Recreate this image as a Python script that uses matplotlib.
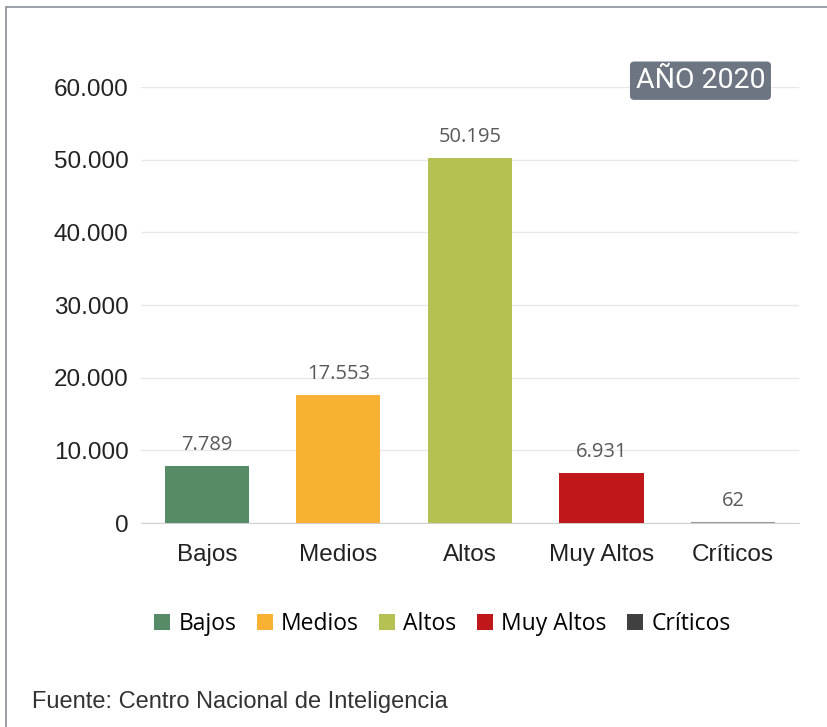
import matplotlib
matplotlib.use("Agg")
import matplotlib.pyplot as plt
from matplotlib.patches import Rectangle, Patch
from matplotlib.ticker import FuncFormatter

# Datos
categorias = ["Bajos", "Medios", "Altos", "Muy Altos", "Críticos"]
valores = [7789, 17553, 50195, 6931, 62]
colores = ["#558b67", "#f8b133", "#b5c153", "#c0171b", "#404040"]

def miles(v):
    return f"{int(v):,}".replace(",", ".")

fig = plt.figure(figsize=(8.27, 7.27), dpi=100)
ax = fig.add_axes([0.1705, 0.2806, 0.7955, 0.5997])

x = range(len(categorias))
barras = ax.bar(x, valores, width=0.64, color=colores, zorder=3)
# la barra de Críticos casi no tiene altura: se marca con un borde fino
barras[-1].set_edgecolor("#9a9a9a")
barras[-1].set_linewidth(1.5)

for xi, v in zip(x, valores):
    ax.text(xi, v + 2900, miles(v), ha="center", va="center",
            fontsize=14.5, color="#595959", family="Open Sans")

ax.set_ylim(0, 60000)
ax.set_xlim(-0.5, 4.5)
ax.set_yticks(range(0, 60001, 10000))
ax.yaxis.set_major_formatter(FuncFormatter(lambda v, p: miles(v)))
ax.set_xticks(list(x))
ax.set_xticklabels(categorias)
ax.tick_params(axis="both", length=0, labelsize=17.5, colors="#222222")
ax.tick_params(axis="y", pad=9)
ax.tick_params(axis="x", pad=15)
for lab in ax.get_xticklabels() + ax.get_yticklabels():
    lab.set_family("Liberation Sans")

ax.grid(axis="y", color="#e8e8e8", linewidth=1, zorder=0)
for s in ["top", "right", "left"]:
    ax.spines[s].set_visible(False)
ax.spines["bottom"].set_color("#d0d0d0")

# Etiqueta del año
fig.text(0.847, 0.889, "AÑO 2020", ha="center", va="center", fontsize=20.5,
         color="white", family="Roboto",
         bbox=dict(boxstyle="round,pad=0.2,rounding_size=0.15",
                   facecolor="#6d7583", edgecolor="none"))

# Leyenda
handles = [Patch(facecolor=c, label=n) for n, c in zip(categorias, colores)]
fig.legend(handles=handles, loc="center", bbox_to_anchor=(0.535, 0.142),
           ncol=5, frameon=False, handlelength=0.7,
           handleheight=0.7, handletextpad=0.35, columnspacing=0.9,
           prop={"family": "Open Sans", "size": 16.5})

# Fuente
fig.text(0.039, 0.034, "Fuente: Centro Nacional de Inteligencia",
         fontsize=17, color="#333333", family="Liberation Sans", va="center")

# Marco
fig.patches.append(Rectangle((6 / 827, -0.05), 1.0, 1.05 - 7 / 727,
                             transform=fig.transFigure, fill=False,
                             edgecolor="#8a9099", linewidth=1.2))

fig.savefig("out.png", dpi=100)
